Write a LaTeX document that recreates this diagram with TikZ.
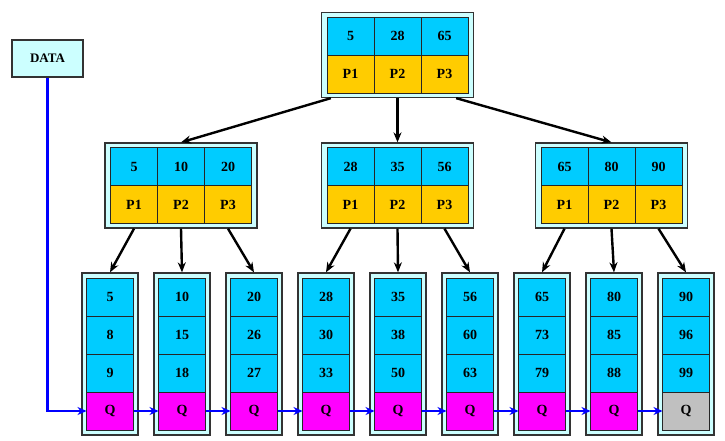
\documentclass[tikz,border=0pt]{standalone}
\usepackage{fontspec}
\setmainfont{Liberation Serif}
\usepackage{tikz}
\usetikzlibrary{positioning, arrows.meta}
\definecolor{keyblue}{HTML}{00CCFF}
\definecolor{ptrgold}{HTML}{FFCC00}
\definecolor{leafq}{HTML}{FF00FF}
\definecolor{lastq}{HTML}{C0C0C0}
\definecolor{framebg}{HTML}{CCFFFF}
\definecolor{linkblue}{HTML}{0000FF}

\begin{document}
\begin{tikzpicture}[x=1pt, y=-1pt,
        every node/.style={font=\fontsize{14}{14}\selectfont\bfseries},
        frame/.style={rectangle, draw=black!80, fill=framebg, line width=1.3pt},
        inner/.style={frame, minimum width=152pt, minimum height=85pt},
        leaf/.style={frame, minimum width=56pt, minimum height=162pt},
        cell/.style={rectangle, draw=black!85, line width=0.9pt, outer sep=0pt,
          inner sep=0pt, minimum width=47pt, minimum height=38pt},
        key/.style={cell, fill=keyblue},
        ptr/.style={cell, fill=ptrgold},
        arr/.style={-{Stealth[length=10pt, width=8pt]}, line width=2.4pt},
        link/.style={-{Stealth[length=9pt, width=8pt]}, line width=2.6pt, color=linkblue}]

      \useasboundingbox (0,0) rectangle (725,440);

      % index nodes
      \foreach \n/\x/\y/\a/\b/\c in {root/397.5/55/5/28/65, n1/181/185.5/5/10/20,
          n2/397.5/185.5/28/35/56, n3/611.5/185.5/65/80/90} {
        \node[inner] (\n) at (\x,\y) {};
        \node[key, above=0pt of \n.center] (\n-k2) {\b};
        \node[key, left=0pt of \n-k2] (\n-k1) {\a};
        \node[key, right=0pt of \n-k2] (\n-k3) {\c};
        \node[ptr, below=0pt of \n.center] (\n-p2) {P2};
        \node[ptr, left=0pt of \n-p2] (\n-p1) {P1};
        \node[ptr, right=0pt of \n-p2] (\n-p3) {P3};
      }

      % leaves
      \foreach \i/\a/\b/\c/\q in {1/5/8/9/leafq, 2/10/15/18/leafq, 3/20/26/27/leafq,
          4/28/30/33/leafq, 5/35/38/50/leafq, 6/56/60/63/leafq,
          7/65/73/79/leafq, 8/80/85/88/leafq, 9/90/96/99/lastq} {
        \node[leaf] (l\i) at (38+72*\i,354) {};
        \node[key, below=0pt of l\i.center] (l\i-c) {\c};
        \node[key, above=0pt of l\i-c] (l\i-b) {\b};
        \node[key, above=0pt of l\i-b] (l\i-a) {\a};
        \node[cell, fill=\q, below=0pt of l\i-c] (l\i-q) {Q};
      }

      \node[frame, minimum width=71pt, minimum height=37pt,
        font=\fontsize{13}{13}\selectfont\bfseries] (data) at (47.5,58.5) {DATA};

      \draw[arr] ([xshift=10pt]root.south west) -- (n1.north);
      \draw[arr] (root.south) -- (n2.north);
      \draw[arr] ([xshift=-18pt]root.south east) -- (n3.north);

      \foreach \n/\p/\l in {n1/1/1, n1/2/2, n1/3/3, n2/1/4, n2/2/5, n2/3/6,
          n3/1/7, n3/2/8, n3/3/9}
        \draw[arr] (\n-p\p |- \n.south) -- (l\l.north);

      \draw[link] (data.south) |- (l1-q.west);
      \foreach \i [evaluate=\i as \j using int(\i+1)] in {1,...,8}
        \draw[link] (l\i-q.east) -- (l\j-q.west);
    \end{tikzpicture}
\end{document}
